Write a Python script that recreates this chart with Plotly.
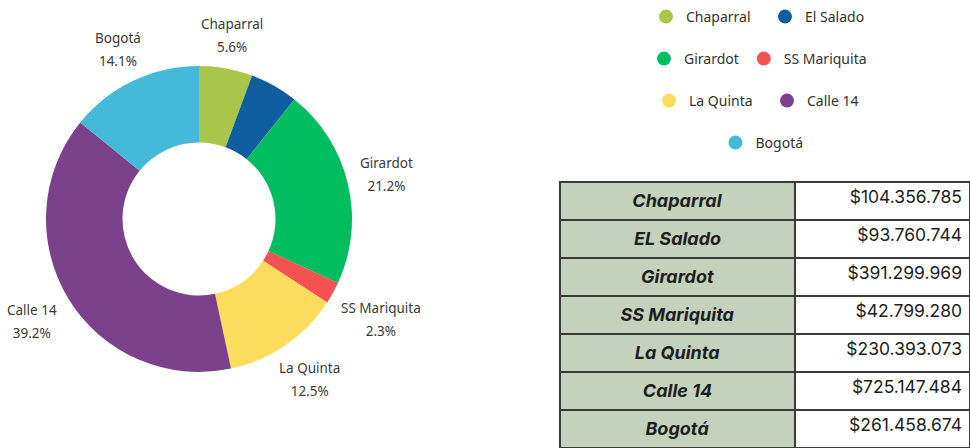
import math
import plotly.graph_objects as go

names = ["Chaparral", "El Salado", "Girardot", "SS Mariquita", "La Quinta", "Calle 14", "Bogotá"]
table_names = ["Chaparral", "EL Salado", "Girardot", "SS Mariquita", "La Quinta", "Calle 14", "Bogotá"]
values = [104356785, 93760744, 391299969, 42799280, 230393073, 725147484, 261458674]
value_labels = ["$104.356.785", "$93.760.744", "$391.299.969", "$42.799.280",
                "$230.393.073", "$725.147.484", "$261.458.674"]
colors = ["#a9c54a", "#0f5fa0", "#00bd5f", "#f45151", "#fcdc5c", "#7b418a", "#44b9da"]
show_label = [True, False, True, True, True, True, True]
legend_rows = [["Chaparral", "El Salado"], ["Girardot", "SS Mariquita"],
               ["La Quinta", "Calle 14"], ["Bogotá"]]

W, H = 970, 448
pie_dom_x = [46 / W, 352 / W]
pie_dom_y = [1 - 372 / H, 1 - 66 / H]

fig = go.Figure()
fig.add_trace(go.Pie(
    labels=names, values=values, sort=False, direction="clockwise", rotation=0,
    hole=0.5, marker=dict(colors=colors, line=dict(width=0)),
    textinfo="none", domain=dict(x=pie_dom_x, y=pie_dom_y),
    showlegend=False, hoverinfo="label+percent+value",
))

# outside data labels, placed along each slice's mid angle (derived from the values)
total = sum(values)
cx = (pie_dom_x[0] + pie_dom_x[1]) / 2 * W
cy = (1 - (pie_dom_y[0] + pie_dom_y[1]) / 2) * H
R = min((pie_dom_x[1] - pie_dom_x[0]) * W, (pie_dom_y[1] - pie_dom_y[0]) * H) / 2
cum = 0.0
annotations = []
for nm, v, show in zip(names, values, show_label):
    frac = v / total
    mid = (cum + frac / 2) * 2 * math.pi
    cum += frac
    if not show:
        continue
    pct = f"{frac * 100:.1f}%"
    bw = 7 * max(len(nm), len(pct))
    bh = 40
    d = R + 8 + abs(math.sin(mid)) * bw / 2 + abs(math.cos(mid)) * bh / 2
    px = cx + d * math.sin(mid)
    py = cy - d * math.cos(mid)
    annotations.append(dict(
        x=px / W, y=1 - py / H, xref="paper", yref="paper",
        xanchor="center", yanchor="middle", showarrow=False, align="center",
        text=(f"<span style='font-size:13.5px'>{nm}</span><br>"
              f"<span style='font-size:13.5px'>{pct}</span>"),
        font=dict(family="Noto Sans", size=18, color="#3a3a3a"),
    ))

# legend rows (legend-only entries, no coordinates)
legend_ids = ["legend", "legend2", "legend3", "legend4"]
row_y = [17, 59, 101, 143]
row_x = [765, 758, 767, 762]
row_entry = [74, 0, 73, 0]
cmap = dict(zip(names, colors))
for lid, row in zip(legend_ids, legend_rows):
    for nm in row:
        fig.add_trace(go.Scatter(x=[None], y=[None], mode="markers", name=nm,
                                 marker=dict(color=cmap[nm], size=14), legend=lid,
                                 showlegend=True, hoverinfo="skip"))

layout_legends = {}
for lid, y, x, ew in zip(legend_ids, row_y, row_x, row_entry):
    layout_legends[lid] = dict(
        x=x / W, y=1 - y / H, orientation="h", xanchor="center", yanchor="middle",
        font=dict(family="Noto Sans", size=14, color="#333333"),
        bgcolor="rgba(0,0,0,0)", itemwidth=30, entrywidth=ew)

fig.add_trace(go.Table(
    domain=dict(x=[560 / W, 1.0], y=[0.0, 1 - 182 / H]),
    columnwidth=[235, 175],
    header=dict(values=["", ""], height=0, line=dict(width=0),
                fill=dict(color="rgba(0,0,0,0)"), font=dict(size=1)),
    cells=dict(
        values=[[f"<b><i>{n}</i></b>" for n in table_names], value_labels],
        height=38,
        align=["center", "right"],
        fill=dict(color=[["#c4d1bc"] * len(names), ["#ffffff"] * len(names)]),
        line=dict(color="#3a3a3a", width=2),
        font=dict(family=["Inter", "Inter"], size=[18, 17.5], color="#1e1e1e"),
    ),
))

fig.update_layout(
    width=W, height=H, margin=dict(l=0, r=0, t=0, b=0, autoexpand=False),
    paper_bgcolor="white", plot_bgcolor="white",
    xaxis=dict(visible=False), yaxis=dict(visible=False),
    annotations=annotations,
    **layout_legends,
)
fig.write_html("out.html", config={"displayModeBar": False},
               post_script="document.body.style.margin='0px';")
